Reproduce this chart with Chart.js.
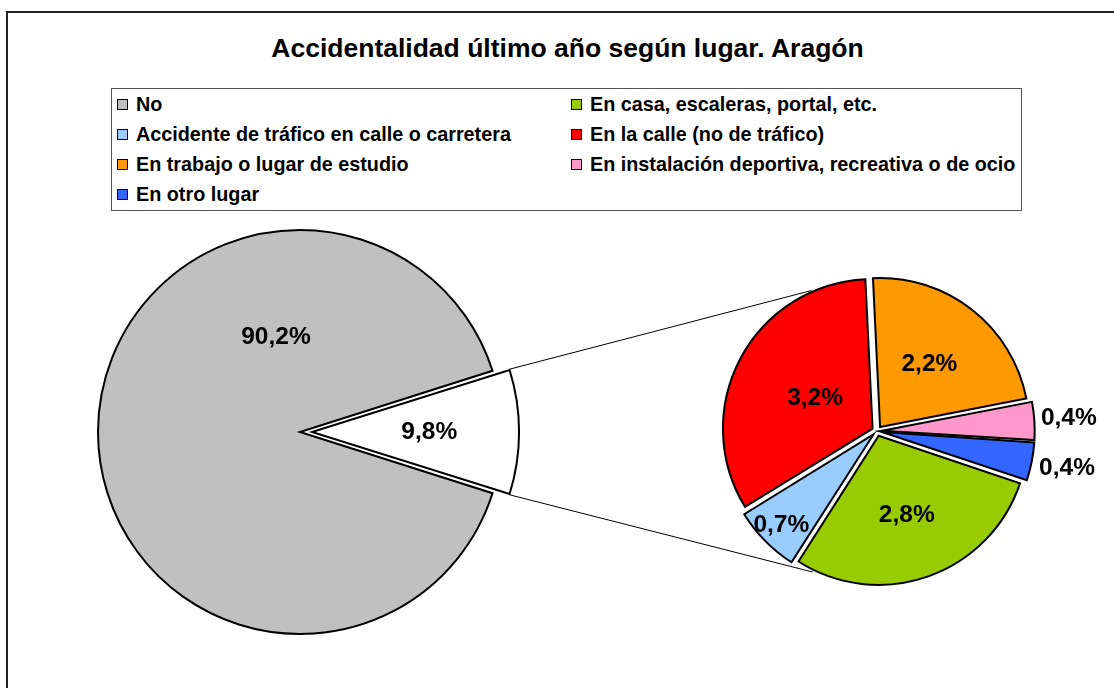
<!DOCTYPE html>
<html>
<head>
<meta charset="utf-8">
<script src="https://cdn.jsdelivr.net/npm/chart.js@4.4.1/dist/chart.umd.min.js"></script>
<style>
  body { margin: 0; background: #fff; }
  #wrap { position: relative; width: 1114px; height: 688px; overflow: hidden;
          font-family: "Liberation Sans", Arial, sans-serif; }
  #frame { position: absolute; left: 6px; top: 11px; width: 1200px; height: 800px; border: 2px solid #222; }
  #title { position: absolute; left: 0; width: 1135px; top: 33px; line-height: 30px;
           text-align: center; font-weight: bold; font-size: 26.5px; color: #000; }
  #legend { position: absolute; left: 111px; top: 88px; width: 909px; height: 121px;
            border: 1px solid #555; display: grid; grid-template-columns: 454px 455px;
            grid-auto-rows: 30px; font-weight: bold; font-size: 19.8px; }
  #legend .item { display: flex; align-items: center; padding-left: 5px; white-space: nowrap; }
  #legend .box { width: 9px; height: 9px; border: 1px solid #000; margin-right: 8px; flex: none; }
  canvas { position: absolute; left: 0; top: 0; }
</style>
</head>
<body>
<div id="wrap">
  <div id="frame"></div>
  <div id="title">Accidentalidad último año según lugar. Aragón</div>
  <div id="legend"></div>
  <canvas id="mainPie" width="1114" height="688"></canvas>
  <canvas id="detailPie" width="1114" height="688"></canvas>
</div>
<script>
// main pie: "No" against everybody who had an accident
const mainLabels = ['No', 'Sí'];
const mainValues = [90.2, 9.8];
const mainColors = ['#C0C0C0', '#FFFFFF'];

// breakdown of the 9,8 % by place
const detailLabels = [
  'En casa, escaleras, portal, etc.',
  'Accidente de tráfico en calle o carretera',
  'En la calle (no de tráfico)',
  'En trabajo o lugar de estudio',
  'En instalación deportiva, recreativa o de ocio',
  'En otro lugar'
];
const detailValues = [2.8, 0.7, 3.2, 2.2, 0.4, 0.4];
const detailColors = ['#99CC00', '#99CCFF', '#FF0000', '#FF9900', '#FF99CC', '#3366FF'];

const FONT = '"Liberation Sans", Arial, sans-serif';

// legend (No + the detail categories)
var legendEl = document.getElementById('legend');
[mainLabels[0]].concat(detailLabels).forEach(function(label, i) {
  var color = i === 0 ? mainColors[0] : detailColors[i - 1];
  var item = document.createElement('div');
  item.className = 'item';
  item.innerHTML = '<span class="box" style="background:' + color + '"></span>' + label;
  legendEl.appendChild(item);
});

function fmt(v) {
  return v.toFixed(1).replace('.', ',') + '%';
}

// percentage labels placed along each slice
const sliceLabels = {
  id: 'sliceLabels',
  afterDatasetsDraw: function(chart, args, opts) {
    var ctx = chart.ctx;
    var meta = chart.getDatasetMeta(0);
    var values = chart.data.datasets[0].data;
    ctx.save();
    ctx.font = 'bold 24.5px ' + FONT;
    ctx.fillStyle = '#000';
    ctx.textAlign = 'center';
    ctx.textBaseline = 'middle';
    meta.data.forEach(function(arc, i) {
      var a = (arc.startAngle + arc.endAngle) / 2;
      if (opts.angle && opts.angle[i] != null) a = opts.angle[i] * Math.PI / 180;
      var r = arc.outerRadius * opts.radius[i];
      ctx.fillText(fmt(values[i]), arc.x + Math.cos(a) * r, arc.y + Math.sin(a) * r);
    });
    ctx.restore();
  }
};

// lines from the white slice to the second pie
const connectors = {
  id: 'connectors',
  beforeDatasetsDraw: function(chart, args, opts) {
    var w = mainChart.getDatasetMeta(0).data[1];
    // chart.js moves an exploded arc by offset / 4 and grows it a little
    var off = mainChart.data.datasets[0].offset[1] / 4;
    var mid = (w.startAngle + w.endAngle) / 2;
    var grow = off * (1 - Math.sin(Math.min(Math.PI, w.circumference)));
    var cx = w.x + Math.cos(mid) * off, cy = w.y + Math.sin(mid) * off;
    var wr = w.outerRadius + grow;
    var s = chart.getDatasetMeta(0).data[0];
    var ctx = chart.ctx;
    ctx.save();
    ctx.strokeStyle = '#000';
    ctx.lineWidth = 1;
    [w.startAngle, w.endAngle].forEach(function(a, i) {
      var b = opts.angles[i] * Math.PI / 180;
      var R = s.outerRadius + 6;
      ctx.beginPath();
      ctx.moveTo(cx + Math.cos(a) * wr, cy + Math.sin(a) * wr);
      ctx.lineTo(s.x + Math.cos(b) * R, s.y + Math.sin(b) * R);
      ctx.stroke();
    });
    ctx.restore();
  }
};

var mainTotal = mainValues[0] + mainValues[1];

var mainChart = new Chart(document.getElementById('mainPie'), {
  type: 'pie',
  data: {
    labels: mainLabels,
    datasets: [{
      data: mainValues,
      backgroundColor: mainColors,
      borderColor: '#000',
      borderWidth: 2,
      borderJoinStyle: 'miter',
      offset: [0, 48],
      hoverOffset: 0
    }]
  },
  options: {
    responsive: false,
    animation: false,
    events: [],
    rotation: 90 + mainValues[1] / mainTotal * 180,
    layout: { padding: { left: 73, top: 205, right: 587, bottom: 29 } },
    plugins: {
      legend: { display: false },
      tooltip: { enabled: false },
      sliceLabels: { radius: [0.485, 0.64], angle: [-104.2, null] }
    }
  },
  plugins: [sliceLabels]
});

var detailChart = new Chart(document.getElementById('detailPie'), {
  type: 'pie',
  data: {
    labels: detailLabels,
    datasets: [{
      data: detailValues,
      backgroundColor: detailColors,
      borderColor: '#000',
      borderWidth: 2,
      borderJoinStyle: 'miter',
      offset: 20,
      hoverOffset: 0
    }]
  },
  options: {
    responsive: false,
    animation: false,
    events: [],
    rotation: 108.6,
    layout: { padding: { left: 717, top: 271, right: 77, bottom: 97 } },
    plugins: {
      legend: { display: false },
      tooltip: { enabled: false },
      sliceLabels: { radius: [0.6, 0.9, 0.47, 0.57, 1.29, 1.3] },
      connectors: { angles: [-115, 114.5] }
    }
  },
  plugins: [connectors, sliceLabels]
});
</script>
</body>
</html>
